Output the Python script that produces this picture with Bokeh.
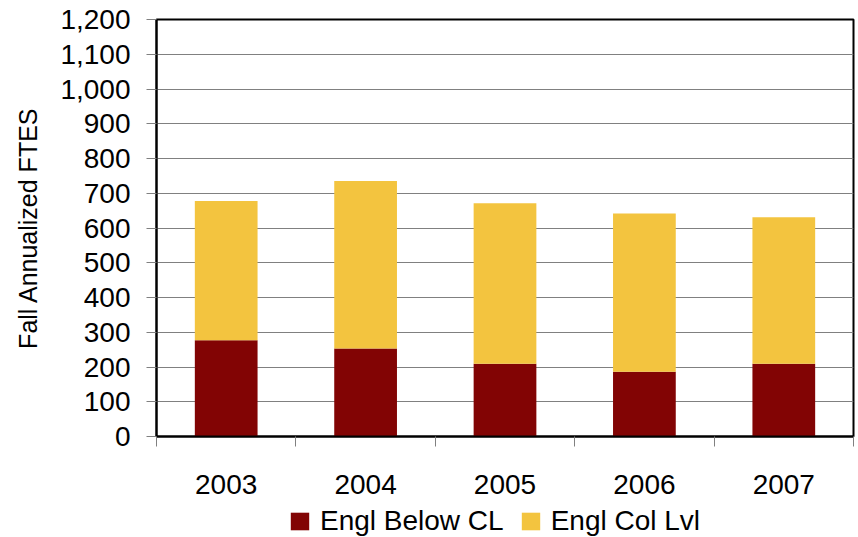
from bokeh.plotting import figure
from bokeh.layouts import column
from bokeh.models import ColumnDataSource, FixedTicker, NumeralTickFormatter, Range1d, Legend
from bokeh.embed import file_html
from bokeh.resources import INLINE

years = ["2003", "2004", "2005", "2006", "2007"]
engl_below_cl = [277, 253, 209, 186, 209]
engl_col_lvl = [401, 482, 462, 456, 422]
series_names = ["Engl Below CL", "Engl Col Lvl"]
series_colors = ["#820404", "#F3C43F"]
y_ticks = list(range(0, 1201, 100))

xpos = [i + 1 for i in range(len(years))]
source = ColumnDataSource(dict(x=xpos, below=engl_below_cl, col=engl_col_lvl))

FONT = "Liberation Sans"

p = figure(frame_width=697, frame_height=417,
           output_backend="svg", toolbar_location=None,
           x_range=Range1d(0.5, len(years) + 0.5), y_range=Range1d(0, 1200),
           min_border_left=156, min_border_right=5, min_border_top=19, min_border_bottom=66)

rs = p.vbar_stack(["below", "col"], x="x", width=0.45, color=series_colors,
                  line_color=None, source=source)

p.outline_line_color = "black"
p.outline_line_width = 2
p.background_fill_color = "white"
p.border_fill_color = "white"

# y axis
yax = p.yaxis[0]
yax.ticker = FixedTicker(ticks=y_ticks)
yax.formatter = NumeralTickFormatter(format="0,0")
yax.axis_line_color = "black"
yax.axis_line_width = 2
yax.major_tick_line_color = "#808080"
yax.major_tick_out = 10
yax.major_tick_in = 0
yax.minor_tick_line_color = None
yax.major_label_text_font = FONT
yax.major_label_text_font_size = "28px"
yax.major_label_text_color = "black"
yax.major_label_standoff = 16
yax.axis_label = "Fall Annualized FTES"
yax.axis_label_text_font = FONT
yax.axis_label_text_font_size = "25px"
yax.axis_label_text_font_style = "normal"
yax.axis_label_text_color = "black"
yax.axis_label_standoff = 15

# x axis
xax = p.xaxis[0]
xax.ticker = FixedTicker(ticks=xpos, minor_ticks=[x - 0.5 for x in xpos] + [xpos[-1] + 0.5])
xax.major_label_overrides = {x: y for x, y in zip(xpos, years)}
xax.axis_line_color = "black"
xax.axis_line_width = 2
xax.major_tick_line_color = None
xax.major_tick_out = 10
xax.major_tick_in = 0
xax.minor_tick_line_color = "#808080"
xax.minor_tick_out = 10
xax.minor_tick_in = 0
xax.major_label_text_font = FONT
xax.major_label_text_font_size = "28px"
xax.major_label_text_color = "black"
xax.major_label_standoff = 28
xax.axis_label_standoff = 0

p.xgrid.grid_line_color = None
p.ygrid.ticker = FixedTicker(ticks=y_ticks)
p.ygrid.grid_line_color = "#808080"
p.ygrid.grid_line_width = 1

# legend strip below the chart (its own bars sit outside its visible range)
p2 = figure(width=858, height=35, output_backend="svg", toolbar_location=None,
            x_range=Range1d(0.5, len(years) + 0.5), y_range=Range1d(5000, 6000),
            min_border=0)
p2.axis.visible = False
p2.grid.visible = False
p2.outline_line_color = None
p2.background_fill_color = "white"
p2.border_fill_color = "white"
rs2 = p2.vbar_stack(["below", "col"], x="x", width=0.45, color=series_colors,
                    line_color=None, source=source)

legend = Legend(items=[(series_names[0], [rs2[0]]), (series_names[1], [rs2[1]])],
                orientation="horizontal", location=(132, 0),
                label_text_font=FONT, label_text_font_size="28px", label_text_color="black",
                glyph_width=23, glyph_height=22, label_standoff=9, spacing=15,
                padding=0, margin=0, border_line_color=None, background_fill_alpha=0)
p2.add_layout(legend, "center")

open("out.html", "w").write(file_html(column(p, p2), INLINE))
